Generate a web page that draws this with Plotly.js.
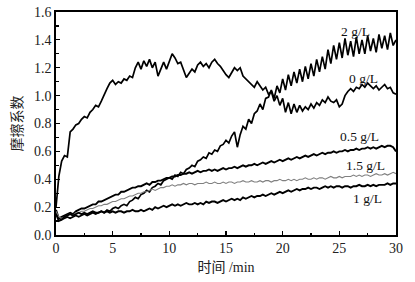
<!DOCTYPE html>
<html><head><meta charset="utf-8">
<script src="https://cdn.plot.ly/plotly-3.0.1.min.js"></script>
<style>html,body{margin:0;padding:0;background:#fff}#chart{width:415px;height:282px}</style>
</head><body><div id="chart"></div>
<script>
// time step 0.25 min, starting at 0 min
const seriesNames = ['2 g/L', '0 g/L', '0.5 g/L', '1.5 g/L', '1 g/L'];
const mu2 = [0.16,0.12,0.11,0.12, 0.13,0.12,0.13,0.14, 0.13,0.14,0.15,0.14, 0.15,0.16,0.15,0.16,
  0.17,0.16,0.18,0.17, 0.19,0.20,0.19,0.21, 0.22,0.21,0.24,0.25, 0.27,0.26,0.29,0.30,
  0.32,0.31,0.34,0.35, 0.37,0.36,0.39,0.40, 0.41,0.40,0.43,0.42, 0.45,0.44,0.47,0.48,
  0.50,0.49,0.53,0.54, 0.56,0.55,0.59,0.58, 0.61,0.60,0.64,0.65, 0.68,0.66,0.71,0.74,
  0.63,0.72,0.78,0.76, 0.83,0.80,0.87,0.89, 0.94,0.90,0.98,0.99, 1.04,0.98,1.07,1.02,
  1.12,1.04,1.15,1.07, 1.17,1.09,1.19,1.10, 1.21,1.12,1.23,1.14, 1.26,1.17,1.28,1.19,
  1.33,1.23,1.36,1.26, 1.38,1.27,1.41,1.29, 1.39,1.28,1.42,1.30, 1.40,1.30,1.43,1.32,
  1.41,1.31,1.44,1.34, 1.43,1.33,1.45,1.36, 1.40];
const mu0 = [0.20,0.42,0.53,0.57, 0.56,0.74,0.76,0.79, 0.80,0.83,0.85,0.84, 0.88,0.90,0.93,0.92,
  0.96,1.01,1.05,1.09, 1.11,1.08,1.10,1.09, 1.12,1.11,1.14,1.13, 1.20,1.24,1.19,1.25,
  1.21,1.26,1.20,1.24, 1.14,1.19,1.24,1.19, 1.25,1.30,1.27,1.23, 1.24,1.18,1.13,1.16,
  1.19,1.17,1.22,1.24, 1.21,1.23,1.20,1.24, 1.26,1.23,1.21,1.18, 1.15,1.13,1.17,1.20,
  1.18,1.20,1.14,1.12, 1.10,1.08,1.06,1.10, 1.07,1.04,1.06,1.01, 1.03,0.96,1.00,0.93,
  0.98,0.88,0.95,0.87, 0.94,0.88,0.93,0.89, 0.92,0.90,0.94,0.91, 0.95,0.93,0.97,0.95,
  0.99,0.96,0.95,0.97, 0.92,0.94,1.00,1.03, 1.05,1.03,1.06,1.05, 1.08,1.06,1.09,1.07,
  1.05,1.07,1.04,1.06, 1.08,1.05,1.06,1.02, 1.01];
const mu05 = [0.18,0.12,0.13,0.14, 0.15,0.16,0.15,0.17, 0.18,0.19,0.19,0.20, 0.21,0.22,0.22,0.24,
  0.24,0.25,0.26,0.27, 0.28,0.29,0.29,0.31, 0.31,0.32,0.33,0.34, 0.34,0.35,0.35,0.36,
  0.37,0.36,0.38,0.38, 0.39,0.39,0.40,0.41, 0.41,0.42,0.42,0.43, 0.43,0.44,0.44,0.45,
  0.44,0.45,0.46,0.45, 0.46,0.46,0.47,0.46, 0.47,0.46,0.47,0.48, 0.47,0.48,0.48,0.49,
  0.48,0.49,0.50,0.49, 0.50,0.50,0.51,0.50, 0.51,0.52,0.51,0.52, 0.53,0.52,0.53,0.54,
  0.53,0.54,0.55,0.54, 0.55,0.56,0.55,0.56, 0.57,0.56,0.57,0.58, 0.57,0.58,0.59,0.58,
  0.59,0.59,0.60,0.59, 0.60,0.60,0.61,0.60, 0.61,0.61,0.62,0.61, 0.62,0.62,0.63,0.62,
  0.63,0.62,0.63,0.64, 0.63,0.64,0.64,0.63, 0.60];
const mu15 = [0.17,0.13,0.12,0.13, 0.14,0.15,0.14,0.16, 0.16,0.17,0.17,0.18, 0.19,0.19,0.20,0.21,
  0.21,0.22,0.22,0.23, 0.24,0.24,0.25,0.26, 0.26,0.27,0.28,0.28, 0.29,0.30,0.30,0.31,
  0.31,0.32,0.33,0.32, 0.33,0.34,0.34,0.35, 0.35,0.36,0.35,0.36, 0.36,0.37,0.36,0.37,
  0.37,0.36,0.37,0.37, 0.37,0.38,0.37,0.37, 0.38,0.37,0.37,0.38, 0.37,0.38,0.38,0.37,
  0.38,0.38,0.39,0.38, 0.38,0.39,0.38,0.38, 0.39,0.38,0.39,0.39, 0.38,0.39,0.39,0.40,
  0.39,0.39,0.40,0.39, 0.40,0.39,0.40,0.40, 0.41,0.40,0.40,0.41, 0.40,0.41,0.41,0.40,
  0.41,0.42,0.41,0.41, 0.42,0.41,0.42,0.42, 0.42,0.43,0.42,0.43, 0.42,0.43,0.43,0.42,
  0.43,0.44,0.43,0.43, 0.44,0.43,0.44,0.45, 0.44];
const mu1 = [0.15,0.10,0.11,0.13, 0.14,0.15,0.14,0.15, 0.16,0.15,0.16,0.15, 0.16,0.17,0.16,0.16,
  0.17,0.16,0.17,0.16, 0.17,0.16,0.17,0.17, 0.16,0.17,0.17,0.18, 0.17,0.17,0.18,0.17,
  0.18,0.19,0.18,0.20, 0.19,0.20,0.21,0.20, 0.21,0.22,0.21,0.22, 0.21,0.22,0.23,0.22,
  0.22,0.23,0.22,0.23, 0.22,0.24,0.23,0.24, 0.24,0.23,0.24,0.25, 0.24,0.25,0.26,0.25,
  0.26,0.25,0.27,0.26, 0.27,0.28,0.27,0.28, 0.28,0.29,0.28,0.29, 0.30,0.29,0.30,0.31,
  0.30,0.31,0.32,0.31, 0.32,0.33,0.32,0.33, 0.33,0.34,0.33,0.34, 0.34,0.33,0.34,0.35,
  0.34,0.35,0.34,0.35, 0.35,0.34,0.35,0.35, 0.34,0.35,0.35,0.36, 0.35,0.35,0.36,0.35,
  0.36,0.35,0.36,0.36, 0.36,0.37,0.36,0.37, 0.37];
const labelX = [26.4, 27.1, 26.8, 27.3, 27.5];
const labelY = [1.46, 1.12, 0.71, 0.50, 0.26];
const xTitle = '时间 /min';
const yTitle = '摩擦系数';

const allSeries = [mu2, mu0, mu05, mu15, mu1];
const colors = ['#000', '#000', '#000', '#808080', '#000'];
const widths = [1.7, 1.7, 1.9, 1.1, 1.9];
const traces = allSeries.map((s, i) => ({
  type: 'scatter', mode: 'lines', y: s, x0: 0, dx: 0.25, name: seriesNames[i],
  line: {color: colors[i], width: widths[i]}, showlegend: false, hoverinfo: 'skip'
}));
const serif = 'Liberation Serif, Times New Roman, Noto Sans CJK SC, serif';
const annotations = seriesNames.map((n, i) => ({
  x: labelX[i], y: labelY[i], xref: 'x', yref: 'y', text: n, showarrow: false,
  font: {family: serif, size: 13.5, color: '#111'}
}));
const layout = {
  width: 415, height: 282,
  margin: {l: 56, r: 19, t: 11.5, b: 47},
  paper_bgcolor: '#fff', plot_bgcolor: '#fff',
  xaxis: {
    range: [0, 30], dtick: 5, tick0: 0, ticks: 'inside', ticklen: 4, tickwidth: 1.2, tickcolor: '#000',
    minor: {dtick: 2.5, ticks: 'inside', ticklen: 2.5, tickcolor: '#000'},
    showline: true, linecolor: '#000', linewidth: 1.6, mirror: true, showgrid: false, zeroline: false,
    tickfont: {family: serif, size: 14, color: '#222'},
    title: {text: xTitle, font: {family: serif, size: 14, color: '#222'}, standoff: 7}
  },
  yaxis: {
    range: [0, 1.6], dtick: 0.2, tick0: 0, ticks: 'inside', ticklen: 4, tickwidth: 1.2, tickcolor: '#000',
    tickformat: '.1f',
    minor: {dtick: 0.1, ticks: 'inside', ticklen: 2.5, tickcolor: '#000'},
    showline: true, linecolor: '#000', linewidth: 1.6, mirror: true, showgrid: false, zeroline: false,
    tickfont: {family: serif, size: 14, color: '#222'},
    title: {text: yTitle, font: {family: 'Noto Sans CJK SC, sans-serif', size: 14, color: '#222'}, standoff: 8}
  },
  annotations: annotations
};
Plotly.newPlot('chart', traces, layout, {staticPlot: true, displayModeBar: false});
</script>
</body></html>
